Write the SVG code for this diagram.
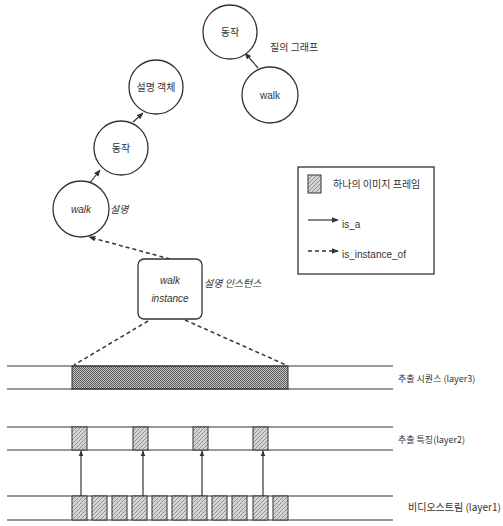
<svg xmlns="http://www.w3.org/2000/svg" width="503" height="526" viewBox="0 0 503 526">
<defs>
<style>
.node{fill:#fff;stroke:#333;stroke-width:1.3}
.t{font-family:"Noto Sans CJK KR","Noto Sans",sans-serif;font-size:10px;fill:#333}
.s{font-size:9px}
.e{font-family:"Liberation Sans","Noto Sans",sans-serif;font-size:10px;fill:#333}
.it{font-style:italic}
.ln{stroke:#333;stroke-width:1.2;fill:none}
.dash{stroke:#333;stroke-width:1.5;fill:none;stroke-dasharray:4,3}
.frame{fill:url(#hatch);stroke:#333;stroke-width:1}
</style>
<pattern id="hatch" width="4" height="4" patternUnits="userSpaceOnUse">
<rect width="4" height="4" fill="#d4d4d4"/>
<path d="M-1,1 L1,-1 M0,4 L4,0 M3,5 L5,3" stroke="#808080" stroke-width="0.8"/>
</pattern>
<pattern id="dots" width="2" height="2" patternUnits="userSpaceOnUse">
<rect width="2" height="2" fill="#c4c4c4"/>
<rect width="1" height="1" fill="#5a5a5a"/>
<rect x="1" y="1" width="1" height="1" fill="#5a5a5a"/>
</pattern>
<marker id="ah" viewBox="0 0 10 10" refX="9" refY="5" markerWidth="7" markerHeight="7" orient="auto" markerUnits="userSpaceOnUse">
<path d="M0,1 L10,5 L0,9 Z" fill="#333"/>
</marker>
<marker id="ahs" viewBox="0 0 10 10" refX="9" refY="5" markerWidth="6" markerHeight="6" orient="auto" markerUnits="userSpaceOnUse">
<path d="M0,1 L10,5 L0,9 Z" fill="#333"/>
</marker>
</defs>
<rect width="503" height="526" fill="#fff"/>

<g id="connectors">
<line class="ln" x1="258" y1="68" x2="245" y2="53" marker-end="url(#ah)"/>
<line class="ln" x1="133" y1="122" x2="143" y2="113" marker-end="url(#ah)"/>
<line class="ln" x1="89" y1="184" x2="100" y2="170" marker-end="url(#ah)"/>
<line class="dash" x1="170" y1="259" x2="89" y2="237" marker-end="url(#ah)"/>
<line class="dash" x1="148" y1="321" x2="74" y2="365"/>
<line class="dash" x1="185" y1="320" x2="286" y2="365"/>
<line class="ln" x1="81" y1="496" x2="81" y2="451" marker-end="url(#ahs)"/>
<line class="ln" x1="143" y1="496" x2="143" y2="451" marker-end="url(#ahs)"/>
<line class="ln" x1="202" y1="496" x2="202" y2="451" marker-end="url(#ahs)"/>
<line class="ln" x1="263" y1="496" x2="263" y2="451" marker-end="url(#ahs)"/>
</g>

<g id="node-dongjak-top">
<circle class="node" cx="230" cy="32" r="27"/>
<text class="t" x="230" y="36" text-anchor="middle">동작</text>
</g>
<g id="label-query">
<text class="t" x="270" y="51">질의 그래프</text>
</g>
<g id="node-walk-top">
<circle class="node" cx="270" cy="95" r="28"/>
<text class="e" x="270" y="99" text-anchor="middle">walk</text>
</g>
<g id="node-desc-object">
<circle class="node" cx="156" cy="87" r="27"/>
<text class="t" x="156" y="91" text-anchor="middle">설명 객체</text>
</g>
<g id="node-dongjak-mid">
<circle class="node" cx="121" cy="148" r="27"/>
<text class="t" x="121" y="152" text-anchor="middle">동작</text>
</g>
<g id="node-walk-bottom">
<circle class="node" cx="81" cy="209" r="28"/>
<text class="e it" x="81" y="213" text-anchor="middle">walk</text>
<text class="t it" x="110" y="213">설명</text>
</g>
<g id="node-walk-instance">
<rect class="node" x="138" y="259" width="64" height="60" rx="6"/>
<text class="e it" x="170" y="284" text-anchor="middle">walk</text>
<text class="e it" x="170" y="302" text-anchor="middle">instance</text>
<text class="t it" x="204" y="287">설명 인스턴스</text>
</g>

<g id="legend">
<rect x="298" y="167" width="136" height="107" fill="#fff" stroke="#333" stroke-width="1.3"/>
<rect class="frame" x="308" y="175" width="13" height="18"/>
<text class="t" x="333" y="188">하나의 이미지 프레임</text>
<line class="ln" x1="308" y1="220" x2="338" y2="220" marker-end="url(#ah)"/>
<text class="e" x="342" y="228">is_a</text>
<line class="dash" x1="308" y1="251" x2="338" y2="251" marker-end="url(#ah)"/>
<text class="e" x="342" y="258">is_instance_of</text>
</g>

<g id="layer3">
<rect x="72" y="366" width="216" height="23" fill="url(#dots)" stroke="#333" stroke-width="1"/>
<line class="ln" x1="7" y1="366" x2="393" y2="366"/>
<line class="ln" x1="7" y1="389" x2="393" y2="389"/>
<text class="t s" x="398" y="382">추출 시퀀스 (layer3)</text>
</g>

<g id="layer2">
<line class="ln" x1="7" y1="427" x2="393" y2="427"/>
<line class="ln" x1="7" y1="450" x2="393" y2="450"/>
<rect class="frame" x="72" y="427" width="15" height="23"/>
<rect class="frame" x="133" y="427" width="15" height="23"/>
<rect class="frame" x="193" y="427" width="15" height="23"/>
<rect class="frame" x="253" y="427" width="15" height="23"/>
<text class="t s" x="398" y="443">추출 특징(layer2)</text>
</g>

<g id="layer1">
<line class="ln" x1="7" y1="496" x2="393" y2="496"/>
<line class="ln" x1="7" y1="520" x2="393" y2="520"/>
<rect class="frame" x="72" y="496" width="15" height="24"/>
<rect class="frame" x="92" y="496" width="15" height="24"/>
<rect class="frame" x="112" y="496" width="15" height="24"/>
<rect class="frame" x="132" y="496" width="15" height="24"/>
<rect class="frame" x="152" y="496" width="15" height="24"/>
<rect class="frame" x="172" y="496" width="15" height="24"/>
<rect class="frame" x="192" y="496" width="15" height="24"/>
<rect class="frame" x="212" y="496" width="15" height="24"/>
<rect class="frame" x="232" y="496" width="15" height="24"/>
<rect class="frame" x="253" y="496" width="15" height="24"/>
<rect class="frame" x="273" y="496" width="15" height="24"/>
<text class="t" x="408" y="511">비디오스트림 (layer1)</text>
</g>
</svg>
